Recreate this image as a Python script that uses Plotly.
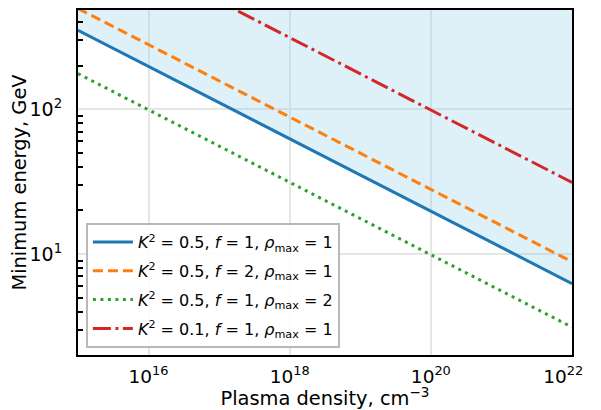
import plotly.graph_objects as go

# Plasma density (cm^-3)
density = [1e15, 1e16, 1e17, 1e18, 1e19, 1e20, 1e21, 1e22]
# Minimum energy (GeV)
e_k05_f1_r1 = [351, 197, 111, 62.4, 35.1, 19.7, 11.1, 6.24]
e_k05_f2_r1 = [496, 279, 157, 88.3, 49.6, 27.9, 15.7, 8.83]
e_k05_f1_r2 = [176, 98.7, 55.5, 31.2, 17.6, 9.87, 5.55, 3.12]
e_k01_f1_r1 = [1755, 987, 555, 312, 176, 98.7, 55.5, 31.2]

names = [
    "<i>K</i><sup>2</sup> = 0.5, <i>f</i> = 1, <i>ρ</i><sub>max</sub> = 1",
    "<i>K</i><sup>2</sup> = 0.5, <i>f</i> = 2, <i>ρ</i><sub>max</sub> = 1",
    "<i>K</i><sup>2</sup> = 0.5, <i>f</i> = 1, <i>ρ</i><sub>max</sub> = 2",
    "<i>K</i><sup>2</sup> = 0.1, <i>f</i> = 1, <i>ρ</i><sub>max</sub> = 1",
]
colors = ["#1f77b4", "#ff7f0e", "#2ca02c", "#d62728"]
dashes = ["solid", "10px,5px", "3px,4.5px", "18px,4.5px,3px,4.5px"]

x_range_log = [15, 22]
y_range_log = [0.302, 2.685]
x_ticks = [1e16, 1e18, 1e20, 1e22]
x_ticktext = ["10<sup>16</sup>", "10<sup>18</sup>", "10<sup>20</sup>",
              "10<sup>22</sup>\u00a0\u00a0\u00a0"]
y_ticks = [10, 100]
y_ticktext = ["10<sup>1</sup>", "10<sup>2</sup>"]
y_minor = [m * d for d in [1, 10, 100] for m in range(2, 10)]

fig = go.Figure()
# upper boundary for the shaded region (beyond axis top)
fig.add_trace(go.Scatter(x=density, y=[10 ** (y_range_log[1] + 1)] * len(density), mode="lines",
                         line=dict(width=0), showlegend=False, hoverinfo="skip"))
fig.add_trace(go.Scatter(x=density, y=e_k05_f1_r1, mode="lines", line=dict(width=0),
                         fill="tonexty", fillcolor="rgba(135,206,235,0.28)",
                         showlegend=False, hoverinfo="skip"))
series = [e_k05_f1_r1, e_k05_f2_r1, e_k05_f1_r2, e_k01_f1_r1]
for i, (ys, nm, c, d) in enumerate(zip(series, names, colors, dashes)):
    fig.add_trace(go.Scatter(x=density, y=ys, mode="lines", name=nm, legendgroup=f"g{i}",
                             line=dict(color=c, width=3, dash=d)))

font = "DejaVu Sans, sans-serif"
fig.update_layout(
    width=593, height=402,
    margin=dict(l=70, r=22, t=0, b=55),
    paper_bgcolor="white", plot_bgcolor="white",
    font=dict(family=font, size=16, color="black"),
    showlegend=True,
    legend=dict(x=0.016, y=0.02, xanchor="left", yanchor="bottom",
                bgcolor="rgba(255,255,255,0.85)", bordercolor="#b8b8b8", borderwidth=2,
                font=dict(size=16, family=font), itemwidth=40,
                traceorder="grouped", tracegroupgap=5),
)
fig.update_xaxes(type="log", range=x_range_log,
                 tickvals=x_ticks, ticktext=x_ticktext, ticklabeloverflow="allow",
                 showgrid=True, gridcolor="#e6e6e6", gridwidth=2,
                 showline=True, linecolor="black", linewidth=2, mirror=True,
                 ticks="", ticklabelstandoff=4, tickfont=dict(size=18.5, family=font),
                 title=dict(text="Plasma density, cm<sup>−3</sup>", font=dict(size=19.4, family=font), standoff=6),
                 zeroline=False)
fig.update_yaxes(type="log", range=y_range_log,
                 tickvals=y_ticks, ticktext=y_ticktext,
                 showgrid=True, gridcolor="#e6e6e6", gridwidth=2,
                 showline=True, linecolor="black", linewidth=2, mirror=True,
                 ticks="", ticklabelstandoff=10, tickfont=dict(size=19, family=font),
                 minor=dict(tickvals=y_minor, ticks="inside", ticklen=5, tickcolor="black",
                            tickwidth=1.5, showgrid=False),
                 title=dict(text="Minimum energy, GeV", font=dict(size=19.4, family=font), standoff=0),
                 zeroline=False)

fig.write_html("out.html", config={"displayModeBar": False})
